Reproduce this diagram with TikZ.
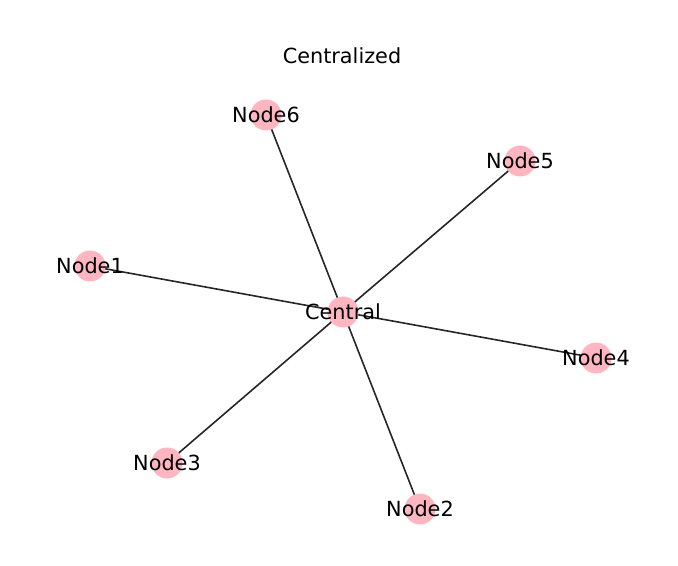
\documentclass[tikz,border=0pt]{standalone}
\usepackage{fontspec}
\setmainfont{DejaVu Sans}
\usepackage{tikz}
\usetikzlibrary{positioning,%
  backgrounds
}
\definecolor{nodepink}{HTML}{FFB6C1}
\tikzset{dot/.style={circle,fill=nodepink,minimum size=23.25pt,inner sep=0pt},
  lbl/.style={font=\fontsize{15.6}{18}\selectfont,inner sep=0pt},
  edge/.style={draw=black!85,line width=1.2pt}}

\begin{document}
\begin{tikzpicture}[x=0.75pt,y=-0.75pt]
                    \useasboundingbox (0,0) rectangle (678,566);
                    \node[lbl] (title) at (342,56) {Centralized};
                    % nodes
                    \node[dot] (central) at (343,312) {};
                    \node[dot] (n1) at (90,266) {};
                    \node[dot] (n2) at (420,509) {};
                    \node[dot] (n3) at (167,463) {};
                    \node[dot] (n4) at (596,358) {};
                    \node[dot] (n5) at (520,161) {};
                    \node[dot] (n6) at (266,115) {};
                    % edges
                    \begin{scope}[on background layer]
                    \foreach \n in {n1,n2,n3,n4,n5,n6}
                        \draw[edge] (central.center) -- (\n.center);
                    \end{scope}
                    % labels
                    \node[lbl] (central-t) at (central) {Central};
                    \node[lbl] (n1-t) at (n1) {Node1};
                    \node[lbl] (n2-t) at (n2) {Node2};
                    \node[lbl] (n3-t) at (n3) {Node3};
                    \node[lbl] (n4-t) at (n4) {Node4};
                    \node[lbl] (n5-t) at (n5) {Node5};
                    \node[lbl] (n6-t) at (n6) {Node6};
                \end{tikzpicture}
\end{document}
